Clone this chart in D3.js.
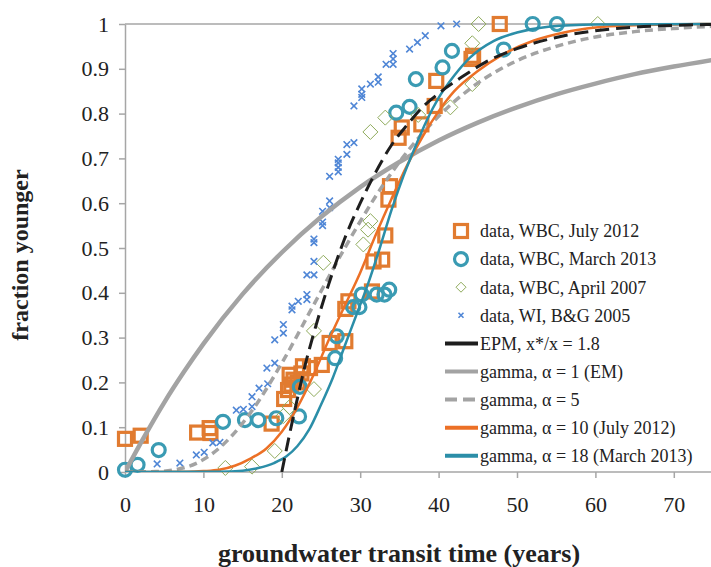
<!DOCTYPE html>
<html><head><meta charset="utf-8">
<script src="https://cdn.jsdelivr.net/npm/d3@7"></script>
<style>
body{margin:0;background:#fff}
text{font-family:"Liberation Serif","Times New Roman",serif;fill:#222}
</style>
</head><body>
<svg id="c" width="711" height="567"></svg>
<script>
// ---- data ----
const xTicks = [0,10,20,30,40,50,60,70];
const yTicks = [0,0.1,0.2,0.3,0.4,0.5,0.6,0.7,0.8,0.9,1];
const yTickLabels = ["0","0.1","0.2","0.3","0.4","0.5","0.6","0.7","0.8","0.9","1"];

const july2012 = [[0,0.074],[2.0,0.081],[9.2,0.088],[10.8,0.098],[10.9,0.087],[18.7,0.108],[20.3,0.163],[20.8,0.183],[21.2,0.195],[21.5,0.206],[21.0,0.217],[22.0,0.2],[22.5,0.22],[22.7,0.236],[23.6,0.232],[25.1,0.239],[26.1,0.288],[28.1,0.292],[28.1,0.364],[28.5,0.381],[31.5,0.403],[31.7,0.47],[32.8,0.474],[33.2,0.528],[33.6,0.608],[33.8,0.638],[34.9,0.746],[35.3,0.769],[37.8,0.776],[39.5,0.817],[39.7,0.873],[44.2,0.922],[44.4,0.929],[47.8,1.0]];

const march2013 = [[0,0.005],[1.6,0.016],[4.3,0.049],[12.5,0.112],[15.3,0.116],[17.0,0.116],[19.3,0.12],[22.2,0.124],[22.3,0.19],[26.8,0.254],[27.0,0.303],[29.1,0.368],[29.9,0.368],[30.2,0.396],[32.1,0.396],[33.1,0.396],[33.7,0.407],[34.6,0.802],[36.3,0.815],[37.1,0.877],[40.5,0.903],[41.7,0.94],[48.3,0.943],[52.0,1.0],[55.1,1.0]];

const april2007 = [[12.8,0.009],[16.2,0.012],[19.1,0.047],[20.2,0.125],[21.0,0.145],[24.1,0.185],[24.1,0.315],[25.3,0.467],[30.4,0.508],[31.0,0.541],[31.3,0.56],[31.3,0.759],[33.2,0.791],[37.4,0.797],[41.5,0.814],[44.3,0.866],[44.3,0.957],[45.1,1.0],[60.3,1.0]];

const wiBG2005 = [[4.1,0.018],[7.0,0.02],[9.1,0.038],[10.1,0.044],[11.2,0.065],[12.1,0.066],[14.2,0.138],[15.1,0.14],[16.2,0.146],[16.2,0.168],[17.1,0.187],[18.2,0.197],[18.1,0.232],[19.1,0.243],[19.1,0.295],[20.2,0.31],[20.2,0.329],[21.3,0.362],[21.3,0.37],[22.1,0.381],[23.2,0.385],[23.2,0.396],[23.2,0.44],[24.1,0.44],[24.1,0.47],[24.1,0.512],[24.1,0.52],[25.2,0.55],[25.2,0.558],[25.2,0.582],[26.1,0.59],[26.1,0.605],[26.1,0.66],[27.2,0.67],[27.2,0.68],[27.2,0.69],[27.2,0.698],[28.3,0.709],[28.3,0.731],[29.2,0.735],[29.2,0.817],[30.2,0.836],[30.2,0.843],[30.2,0.855],[31.3,0.866],[32.3,0.87],[32.3,0.882],[33.3,0.91],[34.2,0.91],[34.2,0.922],[34.2,0.934],[36.3,0.944],[37.3,0.959],[38.3,0.974],[40.3,0.996],[42.3,1.0]];

// model curves, points
const epmCurve = [[20,0],[21,0.085],[22,0.165],[23,0.24],[24,0.305],[26,0.42],[28,0.52],[30,0.6],[32,0.67],[34,0.73],[36,0.775],[38,0.815],[40,0.845],[43,0.882],[46,0.915],[50,0.945],[55,0.97],[60,0.985],[65,0.993],[70,0.997],[75,0.999]];
const gammaA1 = [[0,0],[2.5,0.08],[5,0.155],[7.5,0.223],[10,0.286],[15,0.397],[20,0.49],[25,0.569],[30,0.636],[35,0.692],[40,0.74],[45,0.78],[50,0.814],[55,0.843],[60,0.867],[65,0.888],[70,0.905],[75,0.92]];
const gammaA5 = [[0,0],[4,0.001],[8,0.012],[12,0.053],[16,0.132],[20,0.243],[24,0.371],[28,0.499],[32,0.616],[36,0.715],[40,0.794],[45,0.868],[50,0.918],[55,0.95],[60,0.971],[65,0.983],[70,0.99],[75,0.995]];
const gammaA10 = [[0,0],[8,0.0005],[10,0.002],[12,0.005],[14,0.014],[16,0.03],[18,0.052],[20,0.09],[22,0.145],[24,0.215],[26,0.295],[28,0.37],[30,0.445],[32,0.53],[34,0.61],[36,0.685],[38,0.75],[40,0.805],[42,0.85],[45,0.895],[48,0.93],[52,0.962],[56,0.981],[60,0.992],[65,0.997],[70,0.999],[75,1]];
const gammaA18 = [[0,0],[12,0.0005],[15,0.003],[17,0.009],[19,0.02],[20.6,0.035],[22,0.058],[23.5,0.095],[25,0.15],[26.5,0.21],[28,0.28],[29.5,0.35],[31,0.42],[32.5,0.5],[34,0.585],[35.5,0.66],[37,0.725],[38.5,0.785],[40,0.835],[42,0.885],[44,0.925],[47,0.962],[50,0.981],[54,0.994],[60,0.999],[75,1]];

const legendLabels = ["data, WBC, July 2012","data, WBC, March 2013","data, WBC, April 2007","data, WI, B&G 2005","EPM, x*/x = 1.8","gamma, \u03b1 = 1 (EM)","gamma, \u03b1 = 5","gamma, \u03b1 = 10 (July 2012)","gamma, \u03b1 = 18 (March 2013)"];
const xTitle = "groundwater transit time (years)";
const yTitle = "fraction younger";

// ---- drawing ----
const svg = d3.select("#c");
const x = d3.scaleLinear().domain([0,75]).range([125,713]);
const y = d3.scaleLinear().domain([0,1]).range([472,24]);
const AX = "#a6a6a6";
const C = {orange:"#e17b30", teal:"#3a9bb3", green:"#8fab5c", blue:"#4f86d6",
           black:"#1e1e1e", gray:"#a3a3a3", oline:"#ec7026", tline:"#2b8ea8"};

// top line at y = 1
svg.append("line").attr("x1",x(0)).attr("x2",711).attr("y1",y(1)).attr("y2",y(1))
  .attr("stroke",AX).attr("stroke-width",1.5);

const gx = svg.append("g").attr("transform",`translate(0,${y(0)})`)
  .call(d3.axisBottom(x).tickValues(xTicks).tickSize(6).tickSizeOuter(0).tickPadding(18));
const gy = svg.append("g").attr("transform",`translate(${x(0)},0)`)
  .call(d3.axisLeft(y).tickValues(yTicks).tickSize(6).tickSizeOuter(0).tickPadding(10)
        .tickFormat((d,i)=>yTickLabels[i]));
[gx,gy].forEach(g=>{
  g.selectAll("path,line").attr("stroke",AX).attr("stroke-width",1.5);
  g.selectAll("text").attr("font-size",22).attr("font-family",'"Liberation Serif",serif').attr("fill","#222");
});
gx.select(".domain").attr("d",`M${x(0)},0H711`);

// data markers
const mk = svg.append("g");
mk.selectAll(".sq").data(july2012).join("rect")
  .attr("x",d=>x(d[0])-6.5).attr("y",d=>y(d[1])-6.5).attr("width",13).attr("height",13)
  .attr("fill","none").attr("stroke",C.orange).attr("stroke-width",3.2);
mk.selectAll(".ci").data(march2013).join("circle")
  .attr("cx",d=>x(d[0])).attr("cy",d=>y(d[1])).attr("r",6.5)
  .attr("fill","none").attr("stroke",C.teal).attr("stroke-width",3.2);
const diamond = (cx,cy,r)=>`M${cx},${cy-r}L${cx+r},${cy}L${cx},${cy+r}L${cx-r},${cy}Z`;
mk.selectAll(".di").data(april2007).join("path")
  .attr("d",d=>diamond(x(d[0]),y(d[1]),7.5))
  .attr("fill","none").attr("stroke",C.green).attr("stroke-width",1);
const cross = (cx,cy,r)=>`M${cx-r},${cy-r}L${cx+r},${cy+r}M${cx-r},${cy+r}L${cx+r},${cy-r}`;
mk.selectAll(".xx").data(wiBG2005).join("path")
  .attr("d",d=>cross(x(d[0]),y(d[1]),3.3))
  .attr("fill","none").attr("stroke",C.blue).attr("stroke-width",1.6);

// curves
const line = d3.line().x(d=>x(d[0])).y(d=>y(d[1])).curve(d3.curveMonotoneX);
const curves = [
  {d:gammaA1, c:C.gray, w:4.5, dash:null},
  {d:gammaA5, c:C.gray, w:3.5, dash:"8,5"},
  {d:gammaA10, c:C.oline, w:2.5, dash:null},
  {d:gammaA18, c:C.tline, w:2.5, dash:null},
  {d:epmCurve, c:C.black, w:3, dash:"14,7"}
];
svg.append("defs").append("clipPath").attr("id","clip").append("rect")
  .attr("x",x(0)).attr("y",0).attr("width",711-x(0)).attr("height",y(0));
const cg = svg.append("g").attr("clip-path","url(#clip)");
curves.forEach(cv=>{
  cg.append("path").attr("d",line(cv.d)).attr("fill","none")
    .attr("stroke",cv.c).attr("stroke-width",cv.w)
    .attr("stroke-dasharray",cv.dash);
});

// legend
const lg = svg.append("g");
const rowY = i => 231 + i*28.1;
const lstyles = [
  {c:C.black,w:4,dash:null},{c:C.gray,w:4,dash:null},{c:C.gray,w:4,dash:"12,6"},
  {c:C.oline,w:4,dash:null},{c:C.tline,w:4,dash:null}
];
legendLabels.forEach((t,i)=>{
  const yy = rowY(i);
  const mx = 461;
  if(i===0) lg.append("rect").attr("x",mx-6.5).attr("y",yy-6.5).attr("width",13).attr("height",13)
      .attr("fill","none").attr("stroke",C.orange).attr("stroke-width",3.2);
  else if(i===1) lg.append("circle").attr("cx",mx).attr("cy",yy).attr("r",6.5)
      .attr("fill","none").attr("stroke",C.teal).attr("stroke-width",3.2);
  else if(i===2) lg.append("path").attr("d",diamond(mx,yy,5)).attr("fill","none").attr("stroke",C.green).attr("stroke-width",1);
  else if(i===3) lg.append("path").attr("d",cross(mx,yy,2.5)).attr("fill","none").attr("stroke",C.blue).attr("stroke-width",1.6);
  else {
    const s = lstyles[i-4];
    lg.append("line").attr("x1",445).attr("x2",478).attr("y1",yy).attr("y2",yy)
      .attr("stroke",s.c).attr("stroke-width",s.w).attr("stroke-dasharray",s.dash);
  }
  lg.append("text").attr("x",480).attr("y",yy).attr("dy","0.35em")
    .attr("font-size",18).text(t);
});

// titles
svg.append("text").attr("x",399).attr("y",562).attr("text-anchor","middle")
  .attr("font-size",26).attr("font-weight","bold").text(xTitle);
svg.append("text").attr("transform","translate(28,255) rotate(-90)").attr("text-anchor","middle")
  .attr("font-size",24).attr("font-weight","bold").text(yTitle);
</script>
</body></html>
